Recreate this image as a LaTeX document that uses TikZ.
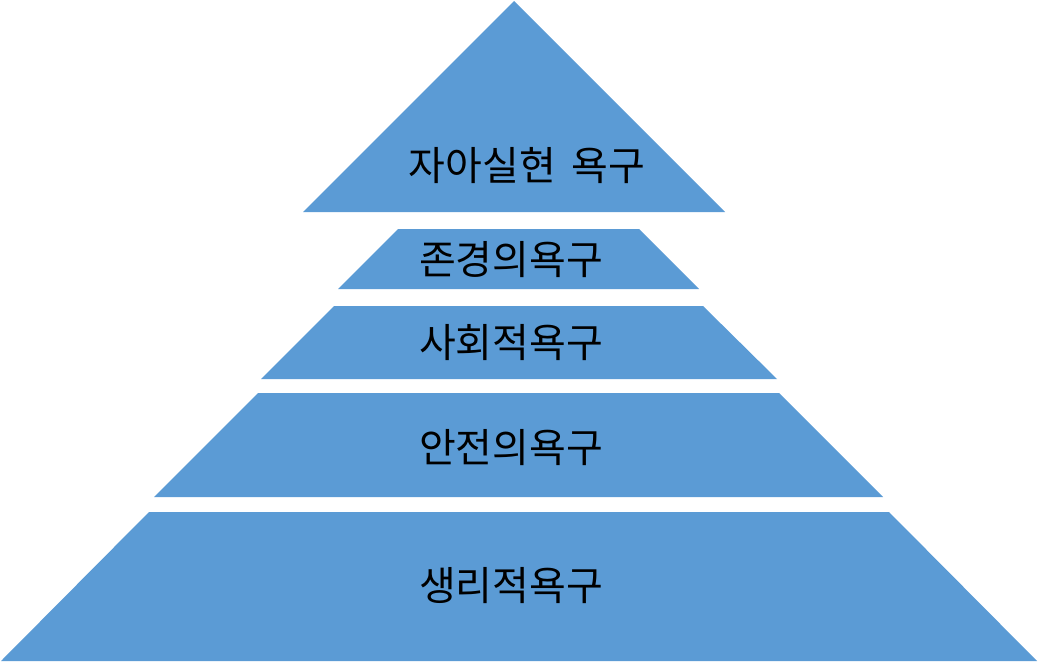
\documentclass[tikz,border=0pt]{standalone}
\usepackage{fontspec}
\newfontfamily\krfont{Noto Sans CJK KR}
\begin{document}
\begin{tikzpicture}[x=1pt,y=-1pt,
  layer/.style={fill=lvblue,draw=none},
  lbl/.style={font=\krfont\fontsize{40}{46}\selectfont,text=black,inner sep=0pt,anchor=center}]
\definecolor{lvblue}{HTML}{5B9BD5}
\useasboundingbox (0,0) rectangle (1038,662);
% top triangle
\fill[layer] (514,1) -- (725,212) -- (303,212) -- cycle;
% layer 2
\fill[layer] (398,229) -- (639,229) -- (699,289) -- (338,289) -- cycle;
% layer 3
\fill[layer] (334,306) -- (703,306) -- (777,379) -- (261,379) -- cycle;
% layer 4
\fill[layer] (258,393) -- (779,393) -- (883,497) -- (154,497) -- cycle;
% layer 5
\fill[layer] (149,512) -- (889,512) -- (1037,661) -- (1,661) -- cycle;
% labels
\node[lbl] (l1) at (527,166) {자아실현\hspace{0.4em}욕구};
\node[lbl] (l2) at (511,260) {존경의욕구};
\node[lbl] (l3) at (511,343) {사회적욕구};
\node[lbl] (l4) at (511,448) {안전의욕구};
\node[lbl] (l5) at (511,586) {생리적욕구};
\end{tikzpicture}
\end{document}
